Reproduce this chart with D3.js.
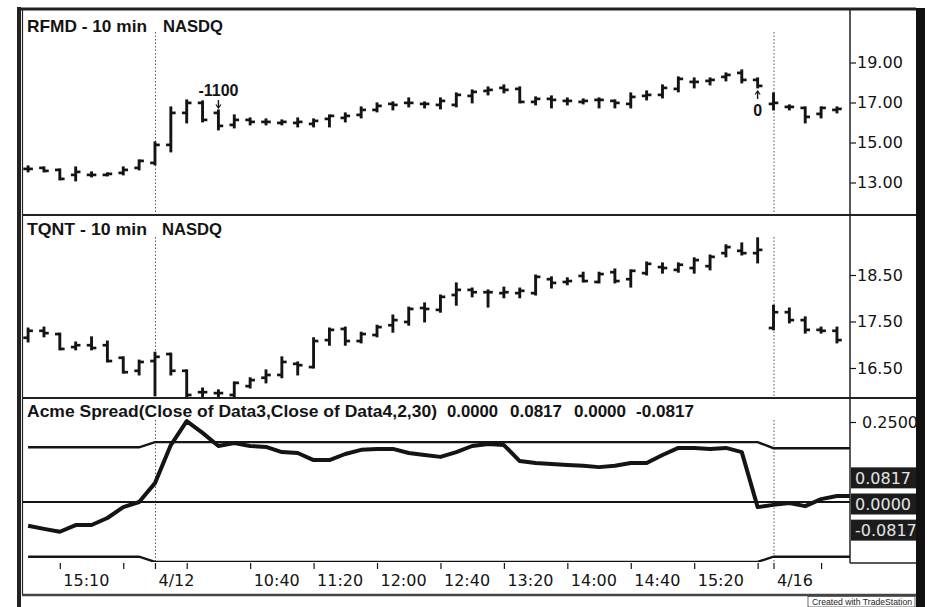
<!DOCTYPE html>
<html><head><meta charset="utf-8">
<script src="https://cdn.jsdelivr.net/npm/d3@7"></script>
<style>
html,body{margin:0;padding:0;background:#fff;}
svg{display:block;}
</style></head>
<body>
<svg id="c" width="928" height="607"></svg>
<script>
// ---------- data ----------
const rfmdOpen  = [13.68,13.73,13.63,13.38,13.38,13.38,13.48,13.73,13.98,14.88,16.48,16.98,16.48,15.88,16.13,16.03,15.98,15.98,15.93,16.18,16.23,16.38,16.63,16.93,16.98,16.93,16.88,16.88,17.33,17.58,17.73,17.68,17.03,17.18,17.08,17.03,17.13,17.08,16.93,17.33,17.38,17.68,18.03,18.08,18.28,18.48,18.13,16.93,16.78,16.73,16.43,16.63];
const rfmdHigh  = [13.83,13.78,13.68,13.78,13.53,13.48,13.78,14.13,15.03,16.78,17.13,17.08,16.63,16.38,16.23,16.18,16.13,16.23,16.18,16.38,16.48,16.78,16.98,17.03,17.23,17.03,17.23,17.48,17.63,17.78,17.88,17.78,17.28,17.33,17.23,17.18,17.23,17.13,17.48,17.58,17.88,18.28,18.23,18.23,18.48,18.63,18.23,17.48,16.88,16.78,16.78,16.78];
const rfmdLow   = [13.53,13.53,13.13,13.08,13.28,13.33,13.38,13.63,13.88,14.53,15.98,16.03,15.63,15.73,15.88,15.88,15.88,15.78,15.78,15.78,16.03,16.23,16.53,16.63,16.78,16.73,16.68,16.78,16.98,17.38,17.48,16.98,16.88,16.73,16.88,16.93,16.73,16.73,16.73,17.13,17.23,17.53,17.73,17.88,18.08,17.98,17.73,16.63,16.63,15.98,16.23,16.48];
const rfmdClose = [13.68,13.58,13.18,13.53,13.38,13.43,13.63,14.08,14.88,16.48,16.98,16.13,15.83,16.13,16.03,16.03,16.03,16.03,16.08,16.33,16.33,16.63,16.83,16.88,16.98,16.93,17.08,17.38,17.53,17.63,17.63,17.03,17.18,17.13,17.08,17.08,17.13,16.98,17.28,17.38,17.73,18.18,18.03,18.13,18.38,18.13,17.83,16.98,16.78,16.28,16.73,16.68];

const tqntOpen  = [17.15,17.30,17.23,16.95,16.99,16.99,16.72,16.44,16.65,16.80,16.44,15.98,15.96,15.92,16.11,16.29,16.35,16.59,16.52,17.10,17.34,17.08,17.21,17.42,17.49,17.79,17.75,18.07,18.18,18.13,18.11,18.11,18.11,18.41,18.35,18.48,18.35,18.56,18.41,18.54,18.67,18.61,18.65,18.69,18.97,19.02,18.97,17.36,17.70,17.53,17.32,17.30];
const tqntHigh  = [17.36,17.38,17.25,17.06,17.17,17.08,16.74,16.67,16.84,16.82,16.46,16.07,16.03,16.20,16.29,16.46,16.74,16.63,17.15,17.36,17.38,17.27,17.42,17.64,17.81,17.90,18.07,18.33,18.22,18.18,18.24,18.22,18.50,18.46,18.44,18.56,18.56,18.63,18.61,18.78,18.76,18.76,18.87,18.93,19.15,19.19,19.30,17.85,17.79,17.60,17.38,17.38];
const tqntLow   = [17.06,17.17,16.89,16.89,16.89,16.63,16.39,16.35,15.90,16.35,15.88,15.88,15.88,15.88,16.07,16.18,16.29,16.35,16.50,16.99,16.99,17.04,17.17,17.27,17.42,17.49,17.70,17.85,18.03,17.81,18.01,18.01,18.07,18.22,18.29,18.35,18.33,18.33,18.24,18.50,18.54,18.56,18.54,18.61,18.89,18.93,18.76,17.32,17.47,17.25,17.25,17.04];
const tqntClose = [17.30,17.25,16.91,16.99,16.93,16.65,16.41,16.63,16.74,16.44,15.92,15.98,15.96,16.18,16.24,16.35,16.63,16.56,17.08,17.32,17.08,17.23,17.38,17.53,17.77,17.77,18.03,18.18,18.13,18.13,18.13,18.16,18.46,18.33,18.37,18.37,18.52,18.37,18.59,18.74,18.65,18.72,18.82,18.89,19.10,18.97,19.04,17.70,17.53,17.32,17.30,17.10];

const spread    = [-0.074,-0.084,-0.093,-0.072,-0.072,-0.050,-0.016,0.000,0.059,0.178,0.253,0.216,0.175,0.184,0.175,0.172,0.156,0.153,0.131,0.131,0.150,0.163,0.166,0.166,0.153,0.147,0.141,0.156,0.175,0.181,0.178,0.128,0.122,0.119,0.116,0.113,0.109,0.113,0.122,0.122,0.147,0.169,0.169,0.166,0.169,0.156,-0.016,-0.009,-0.003,-0.013,0.009,0.019,0.019];
const upperBand = [0.171,0.171,0.171,0.171,0.171,0.171,0.171,0.171,0.187,0.187,0.187,0.187,0.187,0.187,0.187,0.187,0.187,0.187,0.187,0.187,0.187,0.187,0.187,0.187,0.187,0.187,0.187,0.187,0.187,0.187,0.187,0.187,0.187,0.187,0.187,0.187,0.187,0.187,0.187,0.187,0.187,0.187,0.187,0.187,0.187,0.187,0.187,0.168,0.168,0.168,0.168,0.168,0.168];
const lowerBand = [-0.171,-0.171,-0.171,-0.171,-0.171,-0.171,-0.171,-0.171,-0.187,-0.187,-0.187,-0.187,-0.187,-0.187,-0.187,-0.187,-0.187,-0.187,-0.187,-0.187,-0.187,-0.187,-0.187,-0.187,-0.187,-0.187,-0.187,-0.187,-0.187,-0.187,-0.187,-0.187,-0.187,-0.187,-0.187,-0.187,-0.187,-0.187,-0.187,-0.187,-0.187,-0.187,-0.187,-0.187,-0.187,-0.187,-0.187,-0.171,-0.171,-0.171,-0.171,-0.171,-0.171];
const zeroLevel = 0;

const rfmdTicks = [13, 15, 17, 19];
const tqntTicks = [16.5, 17.5, 18.5];
const spreadTicks = [0.25];
const lastValues = [0.0817, 0.0000, -0.0817];
const lastLabels = ["0.0817", "0.0000", "-0.0817"];

const xTickIdx    = [2, 6, 10, 14, 18, 22, 26, 30, 34, 38, 42, 46, 50];
const xTickLabels = ["15:10", "", "", "10:40", "11:20", "12:00", "12:40", "13:20", "14:00", "14:40", "15:20", "", ""];
const dayBreakIdx    = [8, 47];
const dayBreakLabels = ["4/12", "4/16"];

const notes = [{i: 12, text: "-1100", dir: "down"}, {i: 46, text: "0", dir: "up"}];

// ---------- layout ----------
const svg = d3.select('#c');
const plotL = 22, plotR = 850, frameR = 916;
const panels = [{top: 10, bottom: 215}, {top: 215, bottom: 398}, {top: 398, bottom: 563}];
const ink = '#141414';

const x  = d3.scaleLinear().domain([0, 52]).range([28.1, 852.8]);
const yR = d3.scaleLinear().domain([13, 19]).range([182.5, 62.5]);
const yT = d3.scaleLinear().domain([16.5, 18.5]).range([368, 275]);
const yS = d3.scaleLinear().domain([0, 0.25]).range([502, 422]);

svg.append('rect').attr('width', 928).attr('height', 607).attr('fill', '#fff');

const defs = svg.append('defs');
panels.forEach((p, k) => {
  defs.append('clipPath').attr('id', 'clip' + k).append('rect')
    .attr('x', plotL).attr('y', p.top + 1).attr('width', plotR - plotL).attr('height', p.bottom - p.top - 2);
});

// day dividers
panels.forEach((p, k) => {
  svg.append('g').selectAll('line').data(dayBreakIdx).join('line')
    .attr('x1', d => x(d) + 0.5).attr('x2', d => x(d) + 0.5)
    .attr('y1', p.top + 22).attr('y2', p.bottom)
    .attr('stroke', '#555').attr('stroke-width', 1).attr('stroke-dasharray', '1.5,2');
});

// ---------- OHLC bars ----------
function drawBars(k, O, Hh, L, C, y) {
  const g = svg.append('g').attr('clip-path', `url(#clip${k})`);
  const idx = d3.range(O.length);
  g.selectAll('line.hl').data(idx).join('line').attr('class', 'hl')
    .attr('x1', i => x(i)).attr('x2', i => x(i))
    .attr('y1', i => y(Hh[i]) - 0.5).attr('y2', i => y(L[i]) + 0.5)
    .attr('stroke', ink).attr('stroke-width', 2.9);
  g.selectAll('line.op').data(idx).join('line').attr('class', 'op')
    .attr('x1', i => x(i) - 4.8).attr('x2', i => x(i))
    .attr('y1', i => y(O[i])).attr('y2', i => y(O[i]))
    .attr('stroke', ink).attr('stroke-width', 2.7);
  g.selectAll('line.cl').data(idx).join('line').attr('class', 'cl')
    .attr('x1', i => x(i)).attr('x2', i => x(i) + 4.8)
    .attr('y1', i => y(C[i])).attr('y2', i => y(C[i]))
    .attr('stroke', ink).attr('stroke-width', 2.7);
}
drawBars(0, rfmdOpen, rfmdHigh, rfmdLow, rfmdClose, yR);
drawBars(1, tqntOpen, tqntHigh, tqntLow, tqntClose, yT);

// ---------- spread panel ----------
const gS = svg.append('g').attr('clip-path', 'url(#clip2)');
const line = d3.line().x((d, i) => x(i)).y(d => yS(d));
gS.append('line').attr('x1', plotL).attr('x2', plotR).attr('y1', yS(zeroLevel)).attr('y2', yS(zeroLevel))
  .attr('stroke', ink).attr('stroke-width', 2);
gS.append('path').datum(upperBand).attr('d', line).attr('fill', 'none').attr('stroke', ink).attr('stroke-width', 2.4);
gS.append('path').datum(lowerBand).attr('d', line).attr('fill', 'none').attr('stroke', ink).attr('stroke-width', 2.4);
gS.append('path').datum(spread).attr('d', line).attr('fill', 'none').attr('stroke', ink)
  .attr('stroke-width', 4).attr('stroke-linejoin', 'round');

// ---------- annotations ----------
notes.forEach(n => {
  const cx = x(n.i);
  if (n.dir === 'down') {
    svg.append('text').attr('x', cx).attr('y', 96).attr('text-anchor', 'middle')
      .attr('font-family', 'Liberation Sans, Arial, sans-serif').attr('font-weight', 'bold')
      .attr('font-size', 16).attr('fill', ink).text(n.text);
    svg.append('line').attr('x1', cx).attr('x2', cx).attr('y1', 100).attr('y2', 108).attr('stroke', ink).attr('stroke-width', 1.4);
    svg.append('path').attr('d', `M${cx-2.5},104.5L${cx},108L${cx+2.5},104.5`).attr('fill', 'none').attr('stroke', ink).attr('stroke-width', 1.2);
  } else {
    svg.append('text').attr('x', cx).attr('y', 116).attr('text-anchor', 'middle')
      .attr('font-family', 'Liberation Sans, Arial, sans-serif').attr('font-weight', 'bold')
      .attr('font-size', 16).attr('fill', ink).text(n.text);
    svg.append('line').attr('x1', cx).attr('x2', cx).attr('y1', 91).attr('y2', 99).attr('stroke', ink).attr('stroke-width', 1.4);
    svg.append('path').attr('d', `M${cx-2.5},94.5L${cx},91L${cx+2.5},94.5`).attr('fill', 'none').attr('stroke', ink).attr('stroke-width', 1.2);
  }
});

// ---------- titles ----------
const titleFont = 'Liberation Sans, Arial, sans-serif';
function title(xp, yp, txt, len) {
  const t = svg.append('text').attr('x', xp).attr('y', yp).attr('font-family', titleFont)
    .attr('font-weight', 'bold').attr('font-size', 17).attr('fill', ink).text(txt);
  if (len) t.attr('textLength', len).attr('lengthAdjust', 'spacingAndGlyphs');
}
title(27, 32, 'RFMD - 10 min', 120);
title(163, 32, 'NASDQ', 60);
title(27, 235, 'TQNT - 10 min', 120);
title(162, 235, 'NASDQ', 60);
title(27, 417, 'Acme Spread(Close of Data3,Close of Data4,2,30)', 410);
title(447, 417, '0.0000', 51);
title(510, 417, '0.0817', 52);
title(574, 417, '0.0000', 52);
title(636, 417, '-0.0817', 58);

// ---------- right axes ----------
const axFont = 'DejaVu Sans, Verdana, sans-serif';
const axSize = 16;
function styleAxis(g) {
  g.select('.domain').remove();
  g.selectAll('.tick line').attr('stroke', ink).attr('stroke-width', 1.2);
  g.selectAll('.tick text').attr('font-family', axFont).attr('font-size', axSize).attr('fill', ink);
}
svg.append('g').attr('transform', `translate(${plotR},0)`)
  .call(d3.axisRight(yR).tickValues(rfmdTicks).tickFormat(d3.format('.2f')).tickSize(6).tickPadding(1)).call(styleAxis);
svg.append('g').attr('transform', `translate(${plotR},0)`)
  .call(d3.axisRight(yT).tickValues(tqntTicks).tickFormat(d3.format('.2f')).tickSize(6).tickPadding(1)).call(styleAxis);
svg.append('g').attr('transform', `translate(${plotR},0)`)
  .call(d3.axisRight(yS).tickValues(spreadTicks).tickFormat(d3.format('.4f')).tickSize(6).tickPadding(6)).call(styleAxis);

// last-value boxes
const boxes = svg.append('g');
lastValues.forEach((v, k) => {
  const cy = yS(v) + 2;
  boxes.append('rect').attr('x', plotR + 1).attr('y', cy - 10.5).attr('width', frameR - plotR - 1).attr('height', 21).attr('fill', '#1c1c1c');
  boxes.append('text').attr('x', plotR + 5).attr('y', cy).attr('dy', '0.36em')
    .attr('font-family', axFont).attr('font-size', axSize).attr('fill', '#e4e4e4').text(lastLabels[k]);
});

// ---------- time axis ----------
const allTicks = xTickIdx.concat(dayBreakIdx).sort((a, b) => a - b);
const tickText = i => {
  const d = dayBreakIdx.indexOf(i);
  if (d >= 0) return dayBreakLabels[d];
  const t = xTickIdx.indexOf(i);
  return t >= 0 ? xTickLabels[t] : '';
};
const gx = svg.append('g').attr('transform', `translate(0,${panels[2].bottom})`)
  .call(d3.axisBottom(x).tickValues(allTicks).tickFormat(tickText).tickSize(6));
gx.select('.domain').remove();
gx.selectAll('.tick line').attr('stroke', ink).attr('stroke-width', 1.2);
gx.selectAll('.tick text').attr('font-family', axFont).attr('font-size', axSize).attr('fill', ink)
  .attr('text-anchor', 'start').attr('x', 3).attr('y', 23).attr('dy', 0);

// ---------- frame ----------
const fr = svg.append('g').attr('stroke', '#222').attr('fill', 'none');
fr.append('line').attr('x1', 19).attr('x2', 19).attr('y1', 7).attr('y2', 607).attr('stroke-width', 4);
fr.append('line').attr('x1', 22.5).attr('x2', 22.5).attr('y1', 10).attr('y2', 595).attr('stroke-width', 1.2);
fr.append('line').attr('x1', 17).attr('x2', frameR).attr('y1', 9).attr('y2', 9).attr('stroke-width', 3);
fr.append('line').attr('x1', plotL).attr('x2', frameR).attr('y1', panels[0].bottom).attr('y2', panels[0].bottom).attr('stroke-width', 2);
fr.append('line').attr('x1', plotL).attr('x2', frameR).attr('y1', panels[1].bottom).attr('y2', panels[1].bottom).attr('stroke-width', 2);
fr.append('line').attr('x1', plotR).attr('x2', plotR).attr('y1', 10).attr('y2', panels[2].bottom).attr('stroke-width', 1.5);
fr.append('line').attr('x1', plotR).attr('x2', frameR).attr('y1', panels[2].bottom).attr('y2', panels[2].bottom).attr('stroke-width', 1.5);
fr.append('line').attr('x1', plotL).attr('x2', frameR).attr('y1', 595).attr('y2', 595).attr('stroke-width', 2.5).attr('stroke', '#444');
svg.append('rect').attr('x', frameR).attr('y', 8).attr('width', 9).attr('height', 599).attr('fill', '#111');

// credit
svg.append('rect').attr('x', 808).attr('y', 596.5).attr('width', 107).attr('height', 10.5).attr('fill', '#fff').attr('stroke', '#444').attr('stroke-width', 0.8);
svg.append('text').attr('x', 912).attr('y', 605).attr('text-anchor', 'end')
  .attr('font-family', 'Liberation Sans, Arial, sans-serif').attr('font-size', 8.5).attr('fill', '#222')
  .attr('textLength', 100).attr('lengthAdjust', 'spacingAndGlyphs').text('Created with TradeStation');
</script>
</body></html>
